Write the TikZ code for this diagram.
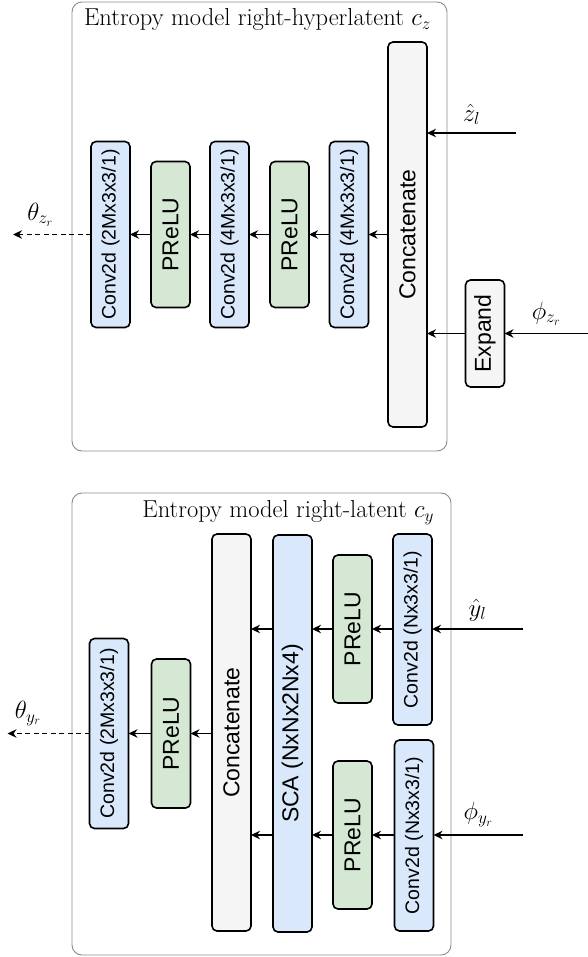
\documentclass[tikz,border=0pt]{standalone}
\usepackage{fontspec}
\newfontfamily\arialf{Liberation Sans}
\usetikzlibrary{arrows.meta}
\definecolor{convblue}{HTML}{DAE8FC}
\definecolor{actgreen}{HTML}{D5E8D4}
\definecolor{catgray}{HTML}{F5F5F5}
\definecolor{framegray}{HTML}{8C8C8C}
\newcommand{\vtext}[1]{\rotatebox{90}{#1}}
\begin{document}
\begin{tikzpicture}[x=1pt,y=-1pt, every node/.style={inner sep=0pt,outer sep=0pt},
  blk/.style={draw,line width=1.6pt,rounded corners=5pt,minimum width=39pt,align=center},
  conv/.style={blk,fill=convblue,font=\arialf\fontsize{19.5}{22}\selectfont},
  act/.style={blk,fill=actgreen,minimum height=146pt,font=\arialf\fontsize{23}{26}\selectfont},
  cat/.style={blk,fill=catgray,font=\arialf\fontsize{23}{26}\selectfont},
  frame/.style={draw=framegray,line width=0.9pt,rounded corners=10pt},
  ttl/.style={font=\fontsize{24.5}{28}\selectfont},
  lbl/.style={font=\fontsize{23}{26}\selectfont,above=8pt},
  arr/.style={-{Stealth[length=9pt,width=8.5pt]},line width=1.6pt}]
\useasboundingbox (0,0) rectangle (588,957);
% right-hyperlatent
\node[frame,minimum width=375pt,minimum height=449pt] (hypframe) at (259.5,226.5) {};
\node[ttl] (hyptitle) at (257.5,20) {Entropy model right-hyperlatent $c_z$};
\node[cat,minimum height=385pt] (hcat) at (407.5,234.5) {\vtext{Concatenate}};
\node[cat,minimum height=107pt] (hexp) at (485,333.5) {\vtext{Expand}};
\node[conv,minimum height=186pt] (hconvc) at (349,234.5) {\vtext{Conv2d (4Mx3x3/1)}};
\node[act] (hactb) at (289.5,234.5) {\vtext{PReLU}};
\node[conv,minimum height=186pt] (hconvb) at (229.5,234.5) {\vtext{Conv2d (4Mx3x3/1)}};
\node[act] (hacta) at (170.5,234.5) {\vtext{PReLU}};
\node[conv,minimum height=186pt] (hconva) at (110.5,234.5) {\vtext{Conv2d (2Mx3x3/1)}};
\coordinate (zin) at (516,133);
\coordinate (phizin) at (588,333.5);
\coordinate (thetazout) at (13,234.5);
\draw[arr] (zin) -- (zin -| hcat.east) node[lbl,midway] {$\hat{z}_l$};
\draw[arr] (phizin) -- (hexp) node[lbl,midway] {$\phi_{z_r}$};
\draw[arr] (hexp) -- (hexp -| hcat.east);
\draw[arr] (hcat) -- (hconvc);
\draw[arr] (hconvc) -- (hactb);
\draw[arr] (hactb) -- (hconvb);
\draw[arr] (hconvb) -- (hacta);
\draw[arr] (hacta) -- (hconva);
\draw[arr,dash pattern=on 5pt off 3.5pt] (hconva) -- (thetazout) node[lbl,pos=0.65] {$\theta_{z_r}$};
% right-latent
\node[frame,minimum width=379pt,minimum height=462pt] (latframe) at (261.5,724) {};
\node[ttl,anchor=east] (lattitle) at (434,513) {Entropy model right-latent $c_y$};
\node[cat,minimum height=397pt] (lcat) at (231.5,732.5) {\vtext{Concatenate}};
\node[conv,minimum height=397pt,font=\arialf\fontsize{23}{26}\selectfont] (lsca) at (292.5,733.5) {\vtext{SCA (NxNx2Nx4)}};
\node[act,minimum height=148pt] (lactt) at (352.5,629) {\vtext{PReLU}};
\node[conv,minimum height=191pt] (lconvt) at (412.5,629.5) {\vtext{Conv2d (Nx3x3/1)}};
\node[act,minimum height=148pt] (lactb) at (352.5,835) {\vtext{PReLU}};
\node[conv,minimum height=191pt] (lconvb) at (414,835.5) {\vtext{Conv2d (Nx3x3/1)}};
\node[act,minimum height=149pt] (lacta) at (171,733.5) {\vtext{PReLU}};
\node[conv,minimum height=190pt] (lconva) at (109,733.5) {\vtext{Conv2d (2Mx3x3/1)}};
\coordinate (yin) at (523,629);
\coordinate (phiyin) at (523,835);
\coordinate (thetayout) at (7.5,733.5);
\draw[arr] (yin) -- (yin -| lconvt.east) node[lbl,midway] {$\hat{y}_l$};
\draw[arr] (lconvt.west |- yin) -- (yin -| lactt.east);
\draw[arr] (lactt.west |- yin) -- (yin -| lsca.east);
\draw[arr] (lsca.west |- yin) -- (yin -| lcat.east);
\draw[arr] (phiyin) -- (phiyin -| lconvb.east) node[lbl,midway] {$\phi_{y_r}$};
\draw[arr] (lconvb.west |- phiyin) -- (phiyin -| lactb.east);
\draw[arr] (lactb.west |- phiyin) -- (phiyin -| lsca.east);
\draw[arr] (lsca.west |- phiyin) -- (phiyin -| lcat.east);
\draw[arr] (lcat.west |- thetayout) -- (lacta);
\draw[arr] (lacta) -- (lconva);
\draw[arr,dash pattern=on 5pt off 3.5pt] (lconva) -- (thetayout) node[lbl,pos=0.75] {$\theta_{y_r}$};
\end{tikzpicture}
\end{document}
